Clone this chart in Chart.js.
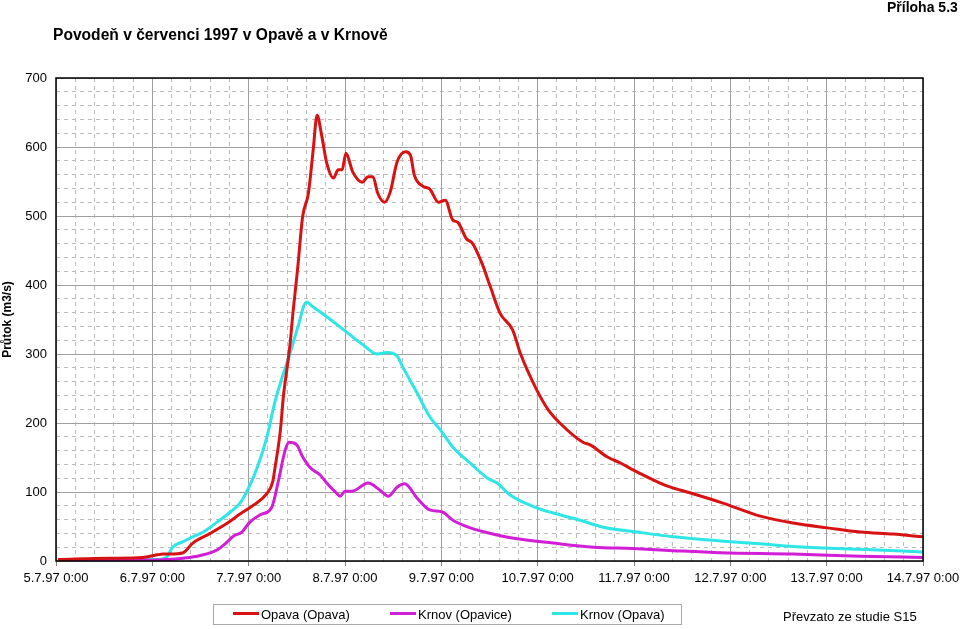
<!DOCTYPE html>
<html>
<head>
<meta charset="utf-8">
<script src="https://cdn.jsdelivr.net/npm/chart.js@4/dist/chart.umd.min.js"></script>
<style>
  html, body { margin: 0; padding: 0; background: #fff; }
  body { width: 960px; height: 629px; position: relative; overflow: hidden;
         font-family: Arial, "Liberation Sans", sans-serif; color: #000; }
  #chart { position: absolute; left: 0; top: 0; }
  .txt { position: absolute; white-space: nowrap; }
  #title { left: 53px; top: 26px; font-size: 15.6px; font-weight: bold; }
  #annex { left: 887px; top: -1px; font-size: 14px; font-weight: bold; }
  #source { left: 783px; top: 609px; font-size: 13px; }
  #legend { position: absolute; left: 213px; top: 604px; width: 469px; height: 21px;
            border: 1px solid #a8a8a8; box-sizing: border-box; font-size: 13px; }
  .item { position: absolute; top: 2px; line-height: 15px; }
  .item i { display: inline-block; width: 26px; height: 3px; vertical-align: middle;
            margin-right: 2px; position: relative; top: -2px; }
</style>
</head>
<body>
<canvas id="chart" width="960" height="629"></canvas>
<div class="txt" id="title">Povodeň v červenci 1997 v Opavě a v Krnově</div>
<div class="txt" id="annex">Příloha 5.3</div>
<div id="legend"></div>
<div class="txt" id="source">Převzato ze studie S15</div>
<script>
// time in days since 5.7.97 0:00, discharge in m3/s
const dayLabels = ["5.7.97 0:00", "6.7.97 0:00", "7.7.97 0:00", "8.7.97 0:00", "9.7.97 0:00",
                   "10.7.97 0:00", "11.7.97 0:00", "12.7.97 0:00", "13.7.97 0:00", "14.7.97 0:00"];
const seriesNames = ["Opava (Opava)", "Krnov (Opavice)", "Krnov (Opava)"];
const seriesColors = ["#d81212", "#d21ed6", "#2ee6e6"];

const opavaT = [0.02, 0.56, 0.90, 1.05, 1.11, 1.18, 1.32, 1.42, 1.60, 1.78, 1.91, 2.05, 2.19, 2.25,
  2.27, 2.33, 2.36, 2.40, 2.43, 2.46, 2.51, 2.56, 2.62, 2.67, 2.71, 2.76, 2.81, 2.88, 2.93, 2.97,
  3.01, 3.08, 3.18, 3.24, 3.29, 3.34, 3.41, 3.47, 3.54, 3.63, 3.68, 3.72, 3.81, 3.88, 3.97, 4.04,
  4.12, 4.17, 4.26, 4.32, 4.42, 4.51, 4.61, 4.74, 4.82, 4.99, 5.11, 5.23, 5.47, 5.55, 5.72, 5.86,
  5.99, 6.27, 6.38, 6.55, 6.90, 7.31, 7.65, 8.01, 8.35, 8.69, 9.00];
const opavaQ = [2, 4, 5, 9, 10, 10, 12, 26, 40, 55, 68, 81, 98, 115,
  132, 190, 238, 281, 315, 360, 426, 499, 533, 596, 646, 615, 577, 555, 567, 567,
  591, 564, 549, 557, 557, 533, 520, 535, 578, 593, 588, 559, 543, 539, 520, 523,
  494, 491, 467, 461, 432, 397, 359, 335, 301, 248, 219, 200, 172, 168, 151, 142,
  132, 113, 107, 100, 85, 65, 55, 48, 42, 39, 35];

const opaviceT = [0.02, 0.98, 1.15, 1.32, 1.50, 1.67, 1.78, 1.84, 1.93, 2.01, 2.12, 2.24, 2.31,
  2.38, 2.42, 2.50, 2.56, 2.64, 2.74, 2.81, 2.90, 2.95, 3.00, 3.07, 3.24, 3.36, 3.45, 3.54, 3.62,
  3.75, 3.88, 4.01, 4.12, 4.30, 4.48, 4.75, 5.16, 5.58, 5.99, 6.41, 6.90, 7.65, 8.35, 9.00];
const opaviceQ = [1, 1, 2, 4, 8, 16, 28, 36, 42, 56, 67, 78, 117,
  161, 172, 168, 151, 135, 125, 113, 100, 94, 101, 101, 113, 103, 94, 107, 112,
  91, 74, 71, 59, 48, 41, 33, 26, 20, 18, 15, 12, 10, 7, 5];

const krnovT = [0.02, 0.46, 0.98, 1.05, 1.15, 1.21, 1.32, 1.42, 1.53, 1.67, 1.81, 1.91, 1.99,
  2.09, 2.19, 2.27, 2.35, 2.43, 2.51, 2.60, 2.67, 2.81, 2.95, 3.05, 3.19, 3.33, 3.44, 3.54, 3.60,
  3.75, 3.88, 3.99, 4.12, 4.30, 4.48, 4.58, 4.71, 4.99, 5.23, 5.44, 5.68, 6.03, 6.41, 6.90, 7.31,
  7.65, 8.35, 9.00];
const krnovQ = [1, 2, 2, 2, 6, 20, 28, 35, 42, 56, 71, 84, 103,
  136, 180, 229, 267, 301, 339, 375, 368, 354, 339, 328, 313, 300, 302, 297, 281,
  243, 209, 190, 165, 142, 120, 113, 96, 77, 67, 59, 49, 42, 35, 29, 25,
  21, 17, 13];

const pts = (t, q) => t.map((x, i) => ({ x: x, y: q[i] }));
const seriesData = [pts(opavaT, opavaQ), pts(opaviceT, opaviceQ), pts(krnovT, krnovQ)];

// html legend
const legendEl = document.getElementById("legend");
const legendX = [19, 176, 338];
seriesNames.forEach((name, i) => {
  const d = document.createElement("div");
  d.className = "item";
  d.style.left = legendX[i] + "px";
  d.innerHTML = '<i style="background:' + seriesColors[i] + '"></i>' + name;
  legendEl.appendChild(d);
});

const frame = {
  id: "frame",
  afterDatasetsDraw(chart) {
    const a = chart.chartArea, ctx = chart.ctx;
    ctx.save();
    ctx.strokeStyle = "#000";
    ctx.lineWidth = 1.5;
    ctx.strokeRect(a.left, a.top, a.right - a.left, a.bottom - a.top);
    ctx.restore();
  }
};

const font = { family: "Arial, 'Liberation Sans', sans-serif", size: 13 };
const minorGrid = { color: "#bcbcbc", lineWidth: 1, drawTicks: false };

new Chart(document.getElementById("chart"), {
  type: "line",
  data: {
    datasets: seriesData.map((d, i) => ({
      label: seriesNames[i],
      data: d,
      borderColor: seriesColors[i],
      borderWidth: 3,
      pointRadius: 0,
      tension: 0.3,
      cubicInterpolationMode: "monotone",
      xAxisID: "x",
      yAxisID: "y"
    }))
  },
  options: {
    responsive: false,
    animation: false,
    layout: { padding: { top: 78, right: 37, bottom: 0, left: 0 } },
    plugins: { legend: { display: false }, tooltip: { enabled: false } },
    scales: {
      xMinor: {
        type: "linear", min: 0, max: 9, position: "bottom",
        ticks: { display: false, stepSize: 0.2 },
        grid: minorGrid,
        border: { display: false, dash: [4, 4] },
        afterFit(s) { s.height = 0; }
      },
      yMinor: {
        type: "linear", min: 0, max: 700, position: "left",
        ticks: { display: false, stepSize: 20 },
        grid: minorGrid,
        border: { display: false, dash: [4, 4] },
        afterFit(s) { s.width = 0; }
      },
      x: {
        type: "linear", min: 0, max: 9,
        ticks: {
          stepSize: 1, color: "#000", font: font, padding: 5, maxRotation: 0,
          callback: v => dayLabels[v]
        },
        grid: { color: "#a0a0a0", lineWidth: 1, tickLength: 5, tickColor: "#808080" },
        border: { display: false },
        afterFit(s) { s.height = 68; s.paddingLeft = 0; s.paddingRight = 0; }
      },
      y: {
        type: "linear", min: 0, max: 700,
        ticks: { stepSize: 100, color: "#000", font: font, padding: 9 },
        grid: { color: "#a0a0a0", lineWidth: 1, drawTicks: false },
        border: { display: false },
        title: {
          display: true, text: "Průtok (m3/s)", color: "#000",
          font: { family: font.family, size: 12, weight: "bold" }, padding: 0
        },
        afterFit(s) { s.width = 56; s.paddingTop = 0; s.paddingBottom = 0; }
      }
    }
  },
  plugins: [frame]
});
</script>
</body>
</html>
